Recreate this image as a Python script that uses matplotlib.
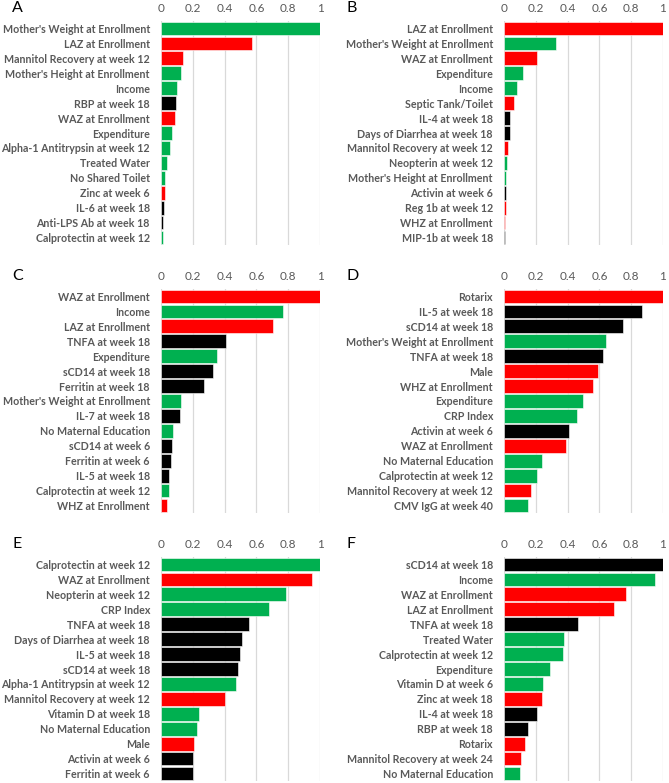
import matplotlib
matplotlib.use("Agg")
import matplotlib.pyplot as plt

G, R, K = "#00B050", "#FF0000", "#000000"

# Panel A
a_labels = ["Mother's Weight at Enrollment", "LAZ at Enrollment", "Mannitol Recovery at week 12",
            "Mother's Height at Enrollment", "Income", "RBP at week 18", "WAZ at Enrollment",
            "Expenditure", "Alpha-1 Antitrypsin at week 12", "Treated Water", "No Shared Toilet",
            "Zinc at week 6", "IL-6 at week 18", "Anti-LPS Ab at week 18", "Calprotectin at week 12"]
a_values = [1.0, 0.570, 0.140, 0.124, 0.100, 0.096, 0.088, 0.067, 0.055, 0.038, 0.025, 0.023, 0.019, 0.013, 0.010]
a_colors = [G, R, R, G, G, K, R, G, G, G, G, R, K, K, G]

# Panel B
b_labels = ["LAZ at Enrollment", "Mother's Weight at Enrollment", "WAZ at Enrollment", "Expenditure",
            "Income", "Septic Tank/Toilet", "IL-4 at week 18", "Days of Diarrhea at week 18",
            "Mannitol Recovery at week 12", "Neopterin at week 12", "Mother's Height at Enrollment",
            "Activin at week 6", "Reg 1b at week 12", "WHZ at Enrollment", "MIP-1b at week 18"]
b_values = [1.0, 0.324, 0.210, 0.121, 0.084, 0.063, 0.038, 0.035, 0.027, 0.017, 0.015, 0.010, 0.010, 0.008, 0.006]
b_colors = [R, G, R, G, G, R, K, K, R, G, G, K, R, R, K]

# Panel C
c_labels = ["WAZ at Enrollment", "Income", "LAZ at Enrollment", "TNFA at week 18", "Expenditure",
            "sCD14 at week 18", "Ferritin at week 18", "Mother's Weight at Enrollment", "IL-7 at week 18",
            "No Maternal Education", "sCD14 at week 6", "Ferritin at week 6", "IL-5 at week 18",
            "Calprotectin at week 12", "WHZ at Enrollment"]
c_values = [1.0, 0.765, 0.707, 0.409, 0.354, 0.329, 0.270, 0.124, 0.120, 0.073, 0.069, 0.065, 0.052, 0.048, 0.036]
c_colors = [R, G, R, K, G, K, K, G, K, G, K, K, K, G, R]

# Panel D
d_labels = ["Rotarix", "IL-5 at week 18", "sCD14 at week 18", "Mother's Weight at Enrollment",
            "TNFA at week 18", "Male", "WHZ at Enrollment", "Expenditure", "CRP Index", "Activin at week 6",
            "WAZ at Enrollment", "No Maternal Education", "Calprotectin at week 12",
            "Mannitol Recovery at week 12", "CMV IgG at week 40"]
d_values = [1.0, 0.868, 0.749, 0.640, 0.623, 0.594, 0.561, 0.494, 0.456, 0.406, 0.387, 0.236, 0.207, 0.169, 0.150]
d_colors = [R, K, K, G, K, R, R, G, G, K, R, G, G, R, G]

# Panel E
e_labels = ["Calprotectin at week 12", "WAZ at Enrollment", "Neopterin at week 12", "CRP Index",
            "TNFA at week 18", "Days of Diarrhea at week 18", "IL-5 at week 18", "sCD14 at week 18",
            "Alpha-1 Antitrypsin at week 12", "Mannitol Recovery at week 12", "Vitamin D at week 18",
            "No Maternal Education", "Male", "Activin at week 6", "Ferritin at week 6"]
e_values = [1.0, 0.948, 0.788, 0.677, 0.554, 0.510, 0.494, 0.483, 0.471, 0.400, 0.242, 0.229, 0.208, 0.204, 0.204]
e_colors = [G, R, G, G, K, K, K, K, G, R, G, G, R, K, K]

# Panel F
f_labels = ["sCD14 at week 18", "Income", "WAZ at Enrollment", "LAZ at Enrollment", "TNFA at week 18",
            "Treated Water", "Calprotectin at week 12", "Expenditure", "Vitamin D at week 6",
            "Zinc at week 18", "IL-4 at week 18", "RBP at week 18", "Rotarix",
            "Mannitol Recovery at week 24", "No Maternal Education"]
f_values = [1.0, 0.951, 0.766, 0.690, 0.467, 0.377, 0.371, 0.287, 0.248, 0.238, 0.205, 0.148, 0.133, 0.105, 0.102]
f_colors = [K, G, R, R, K, G, G, G, G, R, K, K, R, R, G]

ticks = [0, 0.2, 0.4, 0.6, 0.8, 1]
tick_labels = ["0", "0.2", "0.4", "0.6", "0.8", "1"]

panels = [("A", a_labels, a_values, a_colors), ("B", b_labels, b_values, b_colors),
          ("C", c_labels, c_values, c_colors), ("D", d_labels, d_values, d_colors),
          ("E", e_labels, e_values, e_colors), ("F", f_labels, f_values, f_colors)]

W, H = 669, 783
fig = plt.figure(figsize=(W / 100, H / 100), dpi=100)
plt.rcParams['font.family'] = ['Lato', 'DejaVu Sans']
txt = "#595959"

lefts = [161, 504]
tops = [21, 289, 557]
aw, ah = 159, 224

for i, (letter, labels, values, colors) in enumerate(panels):
    col, row = i % 2, i // 2
    x0 = lefts[col]
    y0 = tops[row]
    ax = fig.add_axes([x0 / W, 1 - (y0 + ah) / H, aw / W, ah / H])
    y = list(range(len(labels)))
    ax.barh(y, values, height=0.92, color=colors, edgecolor="white", linewidth=0.4, zorder=3)
    ax.set_xlim(0, 1)
    ax.set_ylim(len(labels) - 0.5, -0.5)
    ax.set_xticks(ticks)
    ax.set_xticklabels(tick_labels)
    ax.xaxis.tick_top()
    ax.tick_params(axis="x", length=0, pad=5, labelsize=8.5, labelcolor=txt)
    ax.tick_params(axis="y", length=0, pad=8, labelsize=7.7, labelcolor=txt)
    ax.set_yticks(y)
    ax.set_yticklabels(labels, fontweight="bold")
    ax.grid(axis="x", color="#d9d9d9", linewidth=0.9, zorder=0)
    for s in ax.spines.values():
        s.set_visible(False)
    lx = 12 if col == 0 else 346
    fig.text(lx / W, 1 - (y0 - 13) / H, letter, fontsize=11.5, color="black", ha="left", va="center")

fig.savefig("out.png", dpi=100)
